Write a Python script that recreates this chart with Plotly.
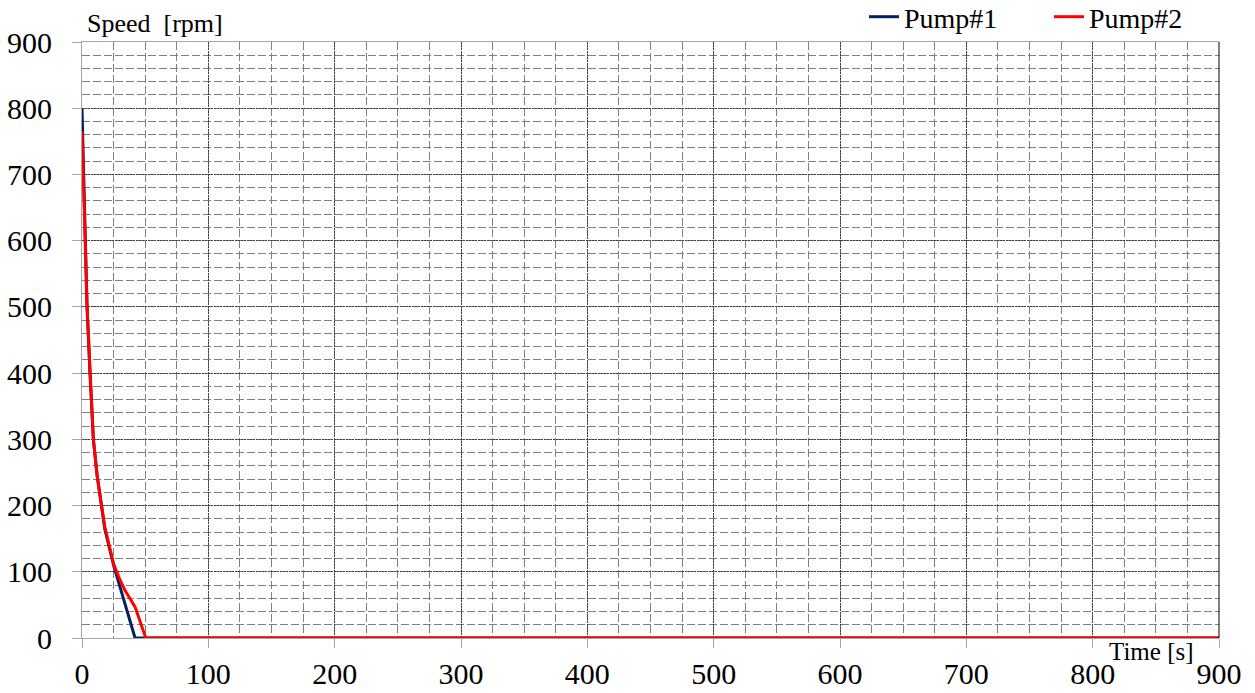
import plotly.graph_objects as go

# Pump coast-down after trip: speed [rpm] vs time [s]
time_p1 = [0, 1.5, 2.5, 4, 6.3, 9, 12, 15.5, 18, 25, 42, 900]
speed_p1 = [800, 700, 600, 500, 400, 300, 245, 200, 165, 110, 0, 0]

time_p2 = [0, 1.5, 2.5, 4, 6.3, 9, 12, 15.5, 18, 25, 30, 34, 42, 50.5, 900]
speed_p2 = [765, 680, 600, 500, 400, 300, 245, 200, 168, 112, 88, 72, 47, 0, 0]

x_ticks = [0, 100, 200, 300, 400, 500, 600, 700, 800, 900]
y_ticks = [0, 100, 200, 300, 400, 500, 600, 700, 800, 900]

SERIF = "Liberation Serif, Times New Roman, serif"

fig = go.Figure()
fig.add_trace(go.Scatter(x=time_p1, y=speed_p1, mode="lines", name="Pump#1",
                         line=dict(color="#002060", width=3)))
fig.add_trace(go.Scatter(x=time_p2, y=speed_p2, mode="lines", name="Pump#2",
                         line=dict(color="#ff0000", width=3)))

axis_common = dict(
    showgrid=True, gridcolor="#404040", griddash="2px,1px", gridwidth=1,
    showline=True, linecolor="#a6a6a6", linewidth=1,
    ticks="outside", ticklen=9, tickcolor="#a6a6a6",
    tickfont=dict(family=SERIF, size=30, color="black"),
    zeroline=False,
)
minor_style = dict(showgrid=True, gridcolor="#808080", griddash="8px,3px", gridwidth=1.3)

fig.update_xaxes(
    range=[0, 900], tickvals=x_ticks, ticktext=[str(v) for v in x_ticks],
    minor=dict(dtick=25, tick0=0, **minor_style),
    mirror=True, ticklabelstandoff=0, **axis_common,
)
fig.update_yaxes(
    range=[0, 900], tickvals=y_ticks, ticktext=[str(v) for v in y_ticks],
    minor=dict(dtick=20, tick0=0, **minor_style),
    ticklabelstandoff=14, **axis_common,
)

# Dark frame edge on the right-hand side
fig.add_shape(type="line", xref="paper", yref="paper", x0=1, x1=1, y0=0, y1=1,
              line=dict(color="black", width=1))

fig.add_annotation(text="Speed  [rpm]", xref="paper", yref="paper", x=0.0025, y=1,
                   xanchor="left", yanchor="bottom", showarrow=False,
                   font=dict(family=SERIF, size=26, color="black"), yshift=2)
fig.add_annotation(text="Time [s]", xref="paper", yref="paper", x=0.9795, y=0,
                   xanchor="right", yanchor="top", showarrow=False,
                   font=dict(family=SERIF, size=25, color="black"), yshift=2)

fig.update_layout(
    width=1255, height=693,
    font=dict(family=SERIF, color="black"),
    margin=dict(l=82, r=36, t=42, b=55, autoexpand=False),
    paper_bgcolor="white", plot_bgcolor="white",
    showlegend=True,
    legend=dict(orientation="h", x=(864 - 82) / 1137, xanchor="left",
                y=1.0, yanchor="bottom",
                font=dict(family=SERIF, size=28, color="black"),
                entrywidth=140, entrywidthmode="pixels",
                itemwidth=30, tracegroupgap=0, bgcolor="rgba(0,0,0,0)"),
)

fig.write_html("out.html")
